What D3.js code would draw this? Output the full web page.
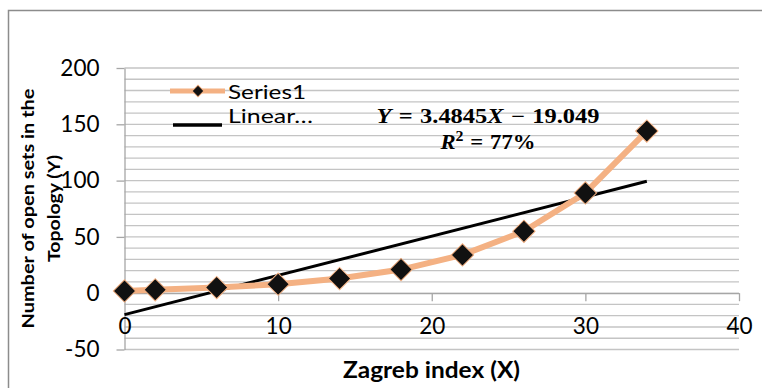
<!DOCTYPE html>
<html>
<head>
<meta charset="utf-8">
<script src="https://cdn.jsdelivr.net/npm/d3@7"></script>
<style>
  body { margin: 0; background: #fff; }
  svg { display: block; }
</style>
</head>
<body>
<div id="chart"></div>
<script>
// values
const zagreb = [0, 2, 6, 10, 14, 18, 22, 26, 30, 34];
const openSets = [2, 3, 5, 8, 13, 21, 34, 55, 89, 144];
const xTicks = [0, 10, 20, 30, 40];
const yTicks = [-50, 0, 50, 100, 150, 200];
const trendCoef = [3.4845, -19.049];   // slope, intercept
const trendRange = [0, 34];
const legendLabels = ['Series1', 'Linear…'];

const W = 762, H = 388;
const orange = '#f4b183';
const gridColor = '#c4c4c4';
const axisColor = '#a6a6a6';
const font = 'Lato, "Open Sans", sans-serif';
const mathFont = '"Liberation Serif", "DejaVu Serif", serif';

let svg = d3.select('#chart').append('svg').attr('width', W).attr('height', H);

let x = d3.scaleLinear().domain([0, 40]).range([124.5, 739]);
let y = d3.scaleLinear().domain([-50, 200]).range([349.5, 68]);

// outer chart border, only top and left fall inside the picture
svg.append('path')
  .attr('d', 'M8.5,' + H + 'V10.5H' + W)
  .attr('fill', 'none')
  .attr('stroke', '#8c8c8c')
  .attr('stroke-width', 1.5);

// horizontal gridlines every 10
svg.append('g').selectAll('line')
  .data(d3.range(-50, 201, 10)).enter()
  .append('line')
  .attr('x1', x(0)).attr('x2', x(40))
  .attr('y1', function(d) { return y(d); })
  .attr('y2', function(d) { return y(d); })
  .attr('stroke', gridColor)
  .attr('stroke-width', 1.3);

// plain hyphen for negatives, like the original
let fmt = function(d) { return String(d); };

// y axis
let yAxis = svg.append('g')
  .attr('transform', 'translate(' + x(0) + ',0)')
  .call(d3.axisLeft(y).tickValues(yTicks).tickFormat(fmt).tickSize(8).tickSizeOuter(0).tickPadding(17));

// x axis sits on y = 0
let xAxis = svg.append('g')
  .attr('transform', 'translate(0,' + y(0) + ')')
  .call(d3.axisBottom(x).tickValues(xTicks).tickFormat(fmt).tickSize(8).tickSizeOuter(0).tickPadding(17));

[yAxis, xAxis].forEach(function(a) {
  a.select('.domain').attr('stroke', axisColor).attr('stroke-width', 1.3);
  a.selectAll('.tick line').attr('stroke', axisColor).attr('stroke-width', 1.3);
  a.selectAll('.tick text')
    .attr('fill', '#000')
    .attr('font-size', 22.5)
    .attr('font-family', font);
});

// linear trend line
let trend = trendRange.map(function(v) { return [v, trendCoef[0] * v + trendCoef[1]]; });
svg.append('line')
  .attr('x1', x(trend[0][0])).attr('y1', y(trend[0][1]))
  .attr('x2', x(trend[1][0])).attr('y2', y(trend[1][1]))
  .attr('stroke', '#000')
  .attr('stroke-width', 3);

// series line
let line = d3.line()
  .x(function(d, i) { return x(zagreb[i]); })
  .y(function(d) { return y(d); });

svg.append('path')
  .datum(openSets)
  .attr('d', line)
  .attr('fill', 'none')
  .attr('stroke', orange)
  .attr('stroke-width', 6)
  .attr('stroke-linejoin', 'round');

// diamond markers
let diamond = d3.symbol().type(d3.symbolSquare).size(250);
svg.append('g').selectAll('path')
  .data(openSets).enter()
  .append('path')
  .attr('d', diamond)
  .attr('transform', function(d, i) { return 'translate(' + x(zagreb[i]) + ',' + y(d) + ') rotate(45)'; })
  .attr('fill', '#111')
  .attr('stroke', orange)
  .attr('stroke-width', 1);

// legend
let legend = svg.append('g');
legend.append('line')
  .attr('x1', 170).attr('x2', 225).attr('y1', 91).attr('y2', 91)
  .attr('stroke', orange).attr('stroke-width', 5);
legend.append('path')
  .attr('d', d3.symbol().type(d3.symbolSquare).size(70))
  .attr('transform', 'translate(198,91) rotate(45)')
  .attr('fill', '#111')
  .attr('stroke', orange)
  .attr('stroke-width', 1);
legend.append('line')
  .attr('x1', 173).attr('x2', 222).attr('y1', 125).attr('y2', 125)
  .attr('stroke', '#000').attr('stroke-width', 3.5);

let legendY = [99, 122.5];
let legendW = [78, 85];
for (let i = 0; i < legendLabels.length; i++) {
  legend.append('text')
    .attr('x', 228)
    .attr('y', legendY[i])
    .attr('font-size', 20)
    .attr('font-family', font)
    .attr('textLength', legendW[i])
    .attr('lengthAdjust', 'spacingAndGlyphs')
    .text(legendLabels[i]);
}

// trend equation
let eq1 = svg.append('text')
  .attr('x', 488).attr('y', 123)
  .attr('text-anchor', 'middle')
  .attr('font-family', mathFont)
  .attr('font-weight', 'bold')
  .attr('font-size', 20)
  .attr('word-spacing', 1)
  .attr('textLength', 223)
  .attr('lengthAdjust', 'spacingAndGlyphs');
eq1.append('tspan').attr('font-style', 'italic').text('Y');
eq1.append('tspan').text(' = ' + trendCoef[0]);
eq1.append('tspan').attr('font-style', 'italic').text('X');
eq1.append('tspan').text(' − ' + Math.abs(trendCoef[1]));

let eq2 = svg.append('text')
  .attr('x', 488).attr('y', 149)
  .attr('text-anchor', 'middle')
  .attr('font-family', mathFont)
  .attr('font-weight', 'bold')
  .attr('font-size', 20)
  .attr('word-spacing', 1)
  .attr('textLength', 95)
  .attr('lengthAdjust', 'spacingAndGlyphs');
eq2.append('tspan').attr('font-style', 'italic').text('R');
eq2.append('tspan').attr('dy', -8).attr('font-size', 14).text('2');
eq2.append('tspan').attr('dy', 8).text(' = 77%');

// axis titles
svg.append('text')
  .attr('x', 431.5).attr('y', 378)
  .attr('text-anchor', 'middle')
  .attr('font-family', font)
  .attr('font-weight', 'bold')
  .attr('font-size', 22)
  .attr('textLength', 177)
  .attr('lengthAdjust', 'spacingAndGlyphs')
  .text('Zagreb index (X)');

let yTitle = ['Number of open sets in the', 'Topology (Y)'];
let yTitleX = [33.5, 59.5];
let yTitleW = [240, 107];
for (let i = 0; i < yTitle.length; i++) {
  svg.append('text')
    .attr('transform', 'translate(' + yTitleX[i] + ',208.5) rotate(-90)')
    .attr('text-anchor', 'middle')
    .attr('font-family', font)
    .attr('font-weight', 'bold')
    .attr('font-size', 17.5)
    .attr('textLength', yTitleW[i])
    .attr('lengthAdjust', 'spacingAndGlyphs')
    .text(yTitle[i]);
}
</script>
</body>
</html>
